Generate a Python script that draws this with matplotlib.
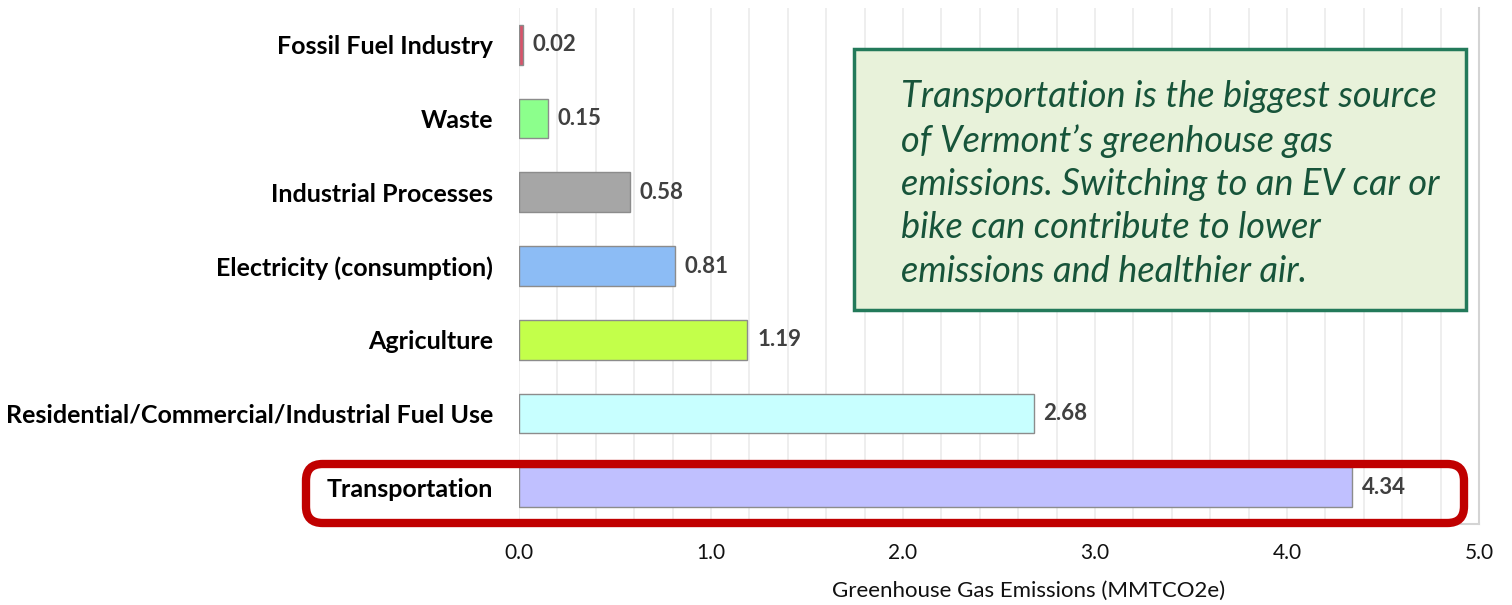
import matplotlib
matplotlib.use("Agg")
import matplotlib.pyplot as plt
from matplotlib.patches import FancyBboxPatch
import numpy as np

categories = ["Transportation", "Residential/Commercial/Industrial Fuel Use", "Agriculture",
              "Electricity (consumption)", "Industrial Processes", "Waste", "Fossil Fuel Industry"]
values = [4.34, 2.68, 1.19, 0.81, 0.58, 0.15, 0.02]
colors = ["#c0c0ff", "#c8ffff", "#c3ff4a", "#8cbcf5", "#a6a6a6", "#8cff8c", "#d9536b"]
xticks = [0.0, 1.0, 2.0, 3.0, 4.0, 5.0]
note = ("Transportation is the biggest source\nof Vermont\u2019s greenhouse gas\n"
        "emissions. Switching to an EV car or\nbike can contribute to lower\n"
        "emissions and healthier air.")

plt.rcParams['font.family'] = ['Lato', 'DejaVu Sans']
W, H = 1512, 605
fig = plt.figure(figsize=(W/100, H/100), dpi=100)
ax = fig.add_axes([519/W, 1-524/H, (1479-519)/W, (524-8)/H])

y = np.arange(len(categories))
ax.barh(y, values, height=0.54, color=colors, edgecolor="#8c8c8c", linewidth=1.0, zorder=3)
ax.set_ylim(-0.5, len(categories)-0.5)
ax.set_xlim(0, 5.0)
ax.set_xticks(xticks)
ax.set_xticklabels([f"{v:.1f}" for v in xticks], fontsize=15, color="#111111")
ax.set_xticks(np.arange(0, 5.01, 0.2), minor=True)
ax.grid(True, axis="x", which="both", color="#ebebeb", linewidth=1.2, zorder=0)
ax.tick_params(axis="x", which="both", length=0, pad=14)
ax.set_yticks(y)
ax.set_yticklabels(categories, fontsize=18, fontweight="bold", color="#000000")
ax.tick_params(axis="y", length=0, pad=18.5)
for s in ["top", "left"]:
    ax.spines[s].set_visible(False)
for s in ["right", "bottom"]:
    ax.spines[s].set_color("#d4d4d4")
    ax.spines[s].set_linewidth(1.5)

for yi, v in zip(y, values):
    ax.text(v + 0.05, yi, f"{v:.2f}", va="center", ha="left", fontsize=16,
            fontweight="bold", color="#404040", zorder=4)

fig.text(1029/W, 1-591/H, "Greenhouse Gas Emissions (MMTCO2e)", ha="center", va="center",
         fontsize=16, color="#111111")

# annotation box
bx0, by0, bx1, by1 = 854, 49, 1466, 310
box = FancyBboxPatch((bx0/W, 1-by1/H), (bx1-bx0)/W, (by1-by0)/H, boxstyle="square,pad=0",
                     transform=fig.transFigure, facecolor="#e8f2da", edgecolor="#237a5a",
                     linewidth=2.5, zorder=5)
fig.patches.append(box)
fig.text(901/W, 1-184/H, note, ha="left", va="center", fontsize=26, style="italic",
         color="#17543a", linespacing=1.38, zorder=6)

# highlight rounded rectangle
rx0, ry0, rx1, ry1 = 306, 464, 1464, 523
rr = FancyBboxPatch((rx0/W, 1-ry1/H), (rx1-rx0)/W, (ry1-ry0)/H,
                    boxstyle="round,pad=0,rounding_size=0.011",
                    transform=fig.transFigure, facecolor="none", edgecolor="#c00000",
                    linewidth=6, zorder=7, mutation_aspect=W/H)
fig.patches.append(rr)

fig.savefig("out.png", dpi=100, facecolor="white")
